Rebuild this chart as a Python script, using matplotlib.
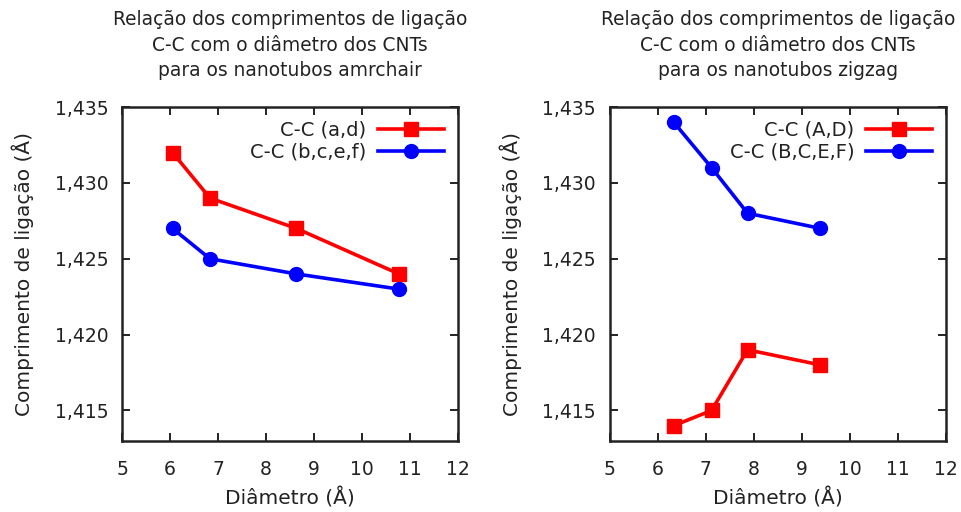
import matplotlib.pyplot as plt
from matplotlib.ticker import FuncFormatter

# armchair nanotubes
diam_arm = [6.05, 6.83, 8.63, 10.77]
arm_ad = [1.432, 1.429, 1.427, 1.424]
arm_bcef = [1.427, 1.425, 1.424, 1.423]

# zigzag nanotubes
diam_zz = [6.33, 7.12, 7.87, 9.39]
zz_AD = [1.414, 1.415, 1.419, 1.418]
zz_BCEF = [1.434, 1.431, 1.428, 1.427]

x_ticks = [5, 6, 7, 8, 9, 10, 11, 12]
y_ticks = [1.415, 1.420, 1.425, 1.430, 1.435]

titles = [
    "Relação dos comprimentos de ligação\nC-C com o diâmetro dos CNTs\npara os nanotubos amrchair",
    "Relação dos comprimentos de ligação\nC-C com o diâmetro dos CNTs\npara os nanotubos zigzag",
]

plt.rcParams["font.family"] = "DejaVu Sans"

fig = plt.figure(figsize=(9.62, 5.12), dpi=100)
ax1 = fig.add_axes([0.127, 0.139, 0.349, 0.652])
ax2 = fig.add_axes([0.634, 0.139, 0.349, 0.652])

series = [
    (ax1, diam_arm, arm_ad, arm_bcef, "C-C (a,d)", "C-C (b,c,e,f)"),
    (ax2, diam_zz, zz_AD, zz_BCEF, "C-C (A,D)", "C-C (B,C,E,F)"),
]

for i, (ax, d, red, blue, lr, lb) in enumerate(series):
    ax.plot(d, red, color="#ff0000", lw=2.6, marker="s", ms=10, label=lr)
    ax.plot(d, blue, color="#0000ff", lw=2.6, marker="o", ms=10, label=lb)
    ax.set_xlim(5, 12)
    ax.set_ylim(1.413, 1.435)
    ax.set_xticks(x_ticks)
    ax.set_yticks(y_ticks)
    ax.yaxis.set_major_formatter(FuncFormatter(lambda v, p: f"{v:.3f}".replace(".", ",")))
    ax.tick_params(direction="in", top=True, right=True, length=6, width=1.4,
                   labelsize=13.5, color="#222222", labelcolor="#222222")
    ax.tick_params(axis="x", pad=14)
    ax.tick_params(axis="y", pad=10)
    for s in ax.spines.values():
        s.set_linewidth(1.8)
        s.set_color("#222222")
    ax.set_xlabel("Diâmetro (Å)", fontsize=14.5, labelpad=6, color="#222222")
    ax.set_ylabel("Comprimento de ligação (Å)", fontsize=14.5, labelpad=15, color="#222222")
    ax.set_title(titles[i], fontsize=13.4, pad=22, linespacing=1.45, color="#222222")
    ax.legend(loc="upper right", frameon=False, markerfirst=False, fontsize=14,
              handlelength=3.4, borderaxespad=0.3, labelspacing=0.15,
              handletextpad=0.6, labelcolor="#222222")

fig.savefig("out.png", dpi=100)
